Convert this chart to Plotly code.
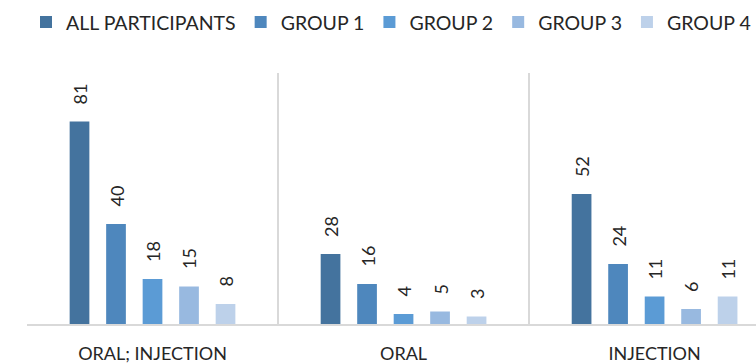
import plotly.graph_objects as go

categories = ["ORAL; INJECTION", "ORAL", "INJECTION"]
series_names = ["ALL PARTICIPANTS", "GROUP 1", "GROUP 2", "GROUP 3", "GROUP 4"]
all_participants = [81, 28, 52]
group_1 = [40, 16, 24]
group_2 = [18, 4, 11]
group_3 = [15, 5, 6]
group_4 = [8, 3, 11]
series_values = [all_participants, group_1, group_2, group_3, group_4]
colors = ["#44739e", "#4e87bd", "#5b9bd5", "#98b9e0", "#bdd1ea"]

FONT = "Lato, 'Open Sans', sans-serif"
TXT = "#262626"
BARGAP = 0.273

fig = go.Figure()
for name, vals, col in zip(series_names, series_values, colors):
    fig.add_trace(go.Bar(
        x=categories, y=vals, name=name,
        marker=dict(color=col, line=dict(width=0)),
        cliponaxis=True,
    ))

n = len(series_names)
slot = (1 - BARGAP) / n
annotations = []
for j, vals in enumerate(series_values):
    for i, v in enumerate(vals):
        annotations.append(dict(
            x=i + (j - (n - 1) / 2) * slot, y=v, xref="x", yref="y",
            text=str(v), showarrow=False, textangle=-90,
            xanchor="center", yanchor="bottom", yshift=15,
            font=dict(family=FONT, size=18, color=TXT),
        ))

fig.update_layout(
    width=756, height=364,
    margin=dict(l=27, r=0, t=73, b=38),
    paper_bgcolor="white", plot_bgcolor="white",
    barmode="group", bargap=BARGAP, bargroupgap=0.46,
    font=dict(family=FONT, size=18, color=TXT),
    showlegend=True,
    legend=dict(orientation="h", x=0.019, xanchor="left", y=1.28, yanchor="top",
                font=dict(family=FONT, size=19.5, color=TXT),
                itemclick=False, bgcolor="rgba(0,0,0,0)"),
    xaxis=dict(type="category", range=[-0.5, 2.404], tickson="boundaries",
               showgrid=True, gridcolor="#d9d9d9", gridwidth=2,
               showline=True, linecolor="#d9d9d9", linewidth=2,
               ticks="", ticklabelstandoff=12,
               tickfont=dict(family=FONT, size=18, color=TXT)),
    yaxis=dict(range=[0, 100.4], visible=False, showgrid=False, zeroline=False),
    annotations=annotations,
)

fig.write_html("out.html")
